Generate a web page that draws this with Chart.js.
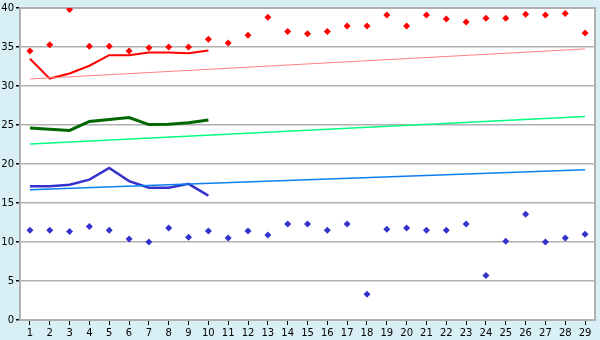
<!DOCTYPE html>
<html>
<head>
<meta charset="utf-8">
<script src="https://cdn.jsdelivr.net/npm/chart.js@4"></script>
<style>
  body { margin: 0; background: #d9eff6; }
  #wrap { width: 600px; height: 340px; }
</style>
</head>
<body>
<div id="wrap"><canvas id="chart" width="600" height="340"></canvas></div>
<script>
const labels = ['1','2','3','4','5','6','7','8','9','10','11','12','13','14','15','16','17','18','19','20','21','22','23','24','25','26','27','28','29'];

const redPoints = [34.5, 35.3, 39.8, 35.1, 35.1, 34.5, 34.9, 35.0, 35.0, 36.0, 35.5, 36.5, 38.8, 37.0, 36.7, 37.0, 37.7, 37.7, 39.1, 37.7, 39.1, 38.6, 38.2, 38.7, 38.7, 39.2, 39.1, 39.3, 36.8];
const bluePoints = [11.5, 11.5, 11.35, 12.0, 11.5, 10.4, 10.0, 11.8, 10.6, 11.4, 10.5, 11.4, 10.9, 12.3, 12.3, 11.5, 12.3, 3.3, 11.65, 11.8, 11.5, 11.5, 12.3, 5.7, 10.1, 13.55, 10.0, 10.5, 11.0];

const redLine = [33.5, 30.95, 31.6, 32.6, 33.95, 33.95, 34.3, 34.3, 34.2, 34.55];
const greenLine = [24.6, 24.45, 24.3, 25.45, 25.7, 25.95, 25.05, 25.1, 25.3, 25.65];
const blueLine = [17.15, 17.15, 17.35, 18.0, 19.5, 17.8, 16.95, 16.95, 17.45, 15.95];

// trend lines: first and last day, line spans the gap
const redTrend = [30.9, ...Array(27).fill(null), 34.75];
const greenTrend = [22.55, ...Array(27).fill(null), 26.1];
const blueTrend = [16.7, ...Array(27).fill(null), 19.25];

const plotBg = {
    id: 'plotBg',
    beforeDraw(chart) {
        const { ctx, chartArea: a } = chart;
        ctx.save();
        ctx.fillStyle = '#ffffff';
        ctx.fillRect(a.left, a.top, a.right - a.left, a.bottom - a.top);
        ctx.strokeStyle = '#b0b0b0';
        ctx.lineWidth = 2;
        ctx.beginPath();
        ctx.moveTo(a.left, a.top);
        ctx.lineTo(a.right, a.top);
        ctx.lineTo(a.right, a.bottom);
        ctx.stroke();
        ctx.restore();
    }
};

function lineSet(data, color, width) {
    return {
        type: 'line',
        data: data,
        borderColor: color,
        borderWidth: width,
        pointRadius: 0,
        tension: 0,
        fill: false,
        spanGaps: true
    };
}

function pointSet(data, color) {
    return {
        type: 'line',
        data: data,
        showLine: false,
        pointStyle: 'rectRot',
        pointRadius: 3.5,
        pointBackgroundColor: color,
        pointBorderColor: color,
        pointBorderWidth: 0
    };
}

Chart.defaults.font.family = 'DejaVu Sans';
Chart.defaults.font.size = 10;
Chart.defaults.color = '#000000';

new Chart(document.getElementById('chart'), {
    type: 'line',
    data: {
        labels: labels,
        datasets: [
            lineSet(redTrend, '#ff8080', 1),
            lineSet(greenTrend, '#00ff80', 1.5),
            lineSet(blueTrend, '#0a7ff0', 1.5),
            lineSet(redLine, '#ff0000', 2),
            lineSet(greenLine, '#006600', 3),
            lineSet(blueLine, '#3333cc', 2.5),
            pointSet(redPoints, '#ff0000'),
            pointSet(bluePoints, '#3333cc')
        ]
    },
    options: {
        responsive: false,
        animation: false,
        layout: { padding: { left: 0, right: 5, top: 5, bottom: 0 } },
        plugins: {
            legend: { display: false },
            tooltip: { enabled: false }
        },
        scales: {
            x: {
                offset: true,
                afterFit(s) { s.height = 20; },
                grid: { display: true, drawOnChartArea: false, tickColor: '#000000', tickLength: 5, offset: false },
                border: { color: '#b0b0b0', width: 2 },
                ticks: { maxRotation: 0, autoSkip: false, padding: 2 }
            },
            y: {
                min: 0,
                max: 40,
                afterFit(s) { s.width = 20; },
                grid: { color: '#b0b0b0', lineWidth: 1.5, tickColor: '#000000', tickLength: 4 },
                border: { color: '#b0b0b0', width: 2 },
                ticks: { stepSize: 5, padding: 2 }
            }
        }
    },
    plugins: [plotBg]
});
</script>
</body>
</html>
